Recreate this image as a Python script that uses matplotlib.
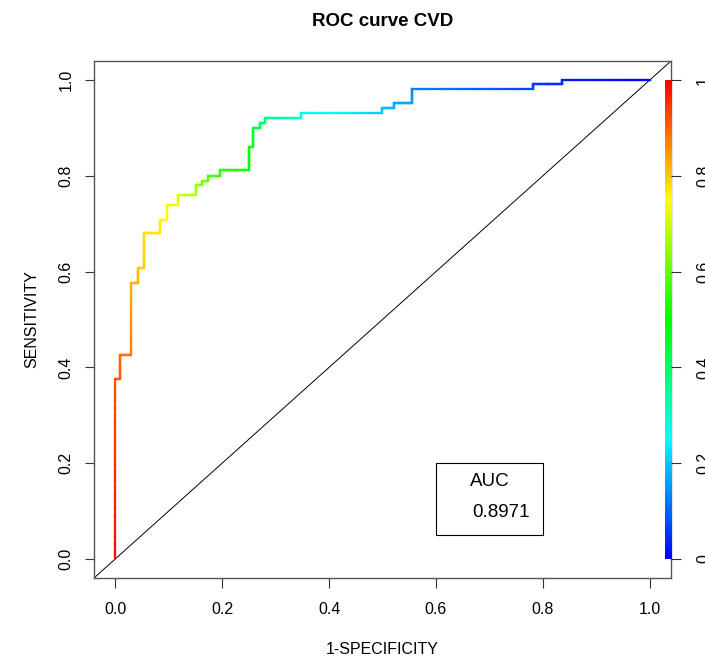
import numpy as np
import matplotlib
matplotlib.use("Agg")
import matplotlib.pyplot as plt
from matplotlib.collections import LineCollection
from matplotlib.colors import LinearSegmentedColormap
from matplotlib.patches import Rectangle

plt.rcParams['font.family'] = ['Liberation Sans', 'DejaVu Sans']

# ROC step vertices (1-specificity, sensitivity) and cutoff at each vertex
fpr = [0.0, 0.0, 0.0094, 0.0094, 0.029, 0.029, 0.042, 0.042, 0.053, 0.053,
       0.084, 0.084, 0.097, 0.097, 0.118, 0.118, 0.151, 0.151, 0.162, 0.162,
       0.173, 0.173, 0.195, 0.195, 0.250, 0.250, 0.258, 0.258, 0.271, 0.271,
       0.280, 0.280, 0.348, 0.348, 0.499, 0.499, 0.521, 0.521, 0.555, 0.555,
       0.782, 0.782, 0.836, 0.836, 1.0]
tpr = [0.0, 0.376, 0.376, 0.425, 0.425, 0.577, 0.577, 0.607, 0.607, 0.680,
       0.680, 0.708, 0.708, 0.739, 0.739, 0.760, 0.760, 0.780, 0.780, 0.789,
       0.789, 0.800, 0.800, 0.812, 0.812, 0.861, 0.861, 0.900, 0.900, 0.910,
       0.910, 0.921, 0.921, 0.931, 0.931, 0.941, 0.941, 0.952, 0.952, 0.981,
       0.981, 0.992, 0.992, 1.0, 1.0]
cutoff = [0.99, 0.92, 0.91, 0.89, 0.88, 0.83, 0.82, 0.81, 0.80, 0.78,
          0.77, 0.76, 0.755, 0.74, 0.73, 0.71, 0.68, 0.65, 0.64, 0.62,
          0.61, 0.58, 0.57, 0.55, 0.52, 0.49, 0.48, 0.44, 0.43, 0.41,
          0.40, 0.38, 0.30, 0.28, 0.20, 0.19, 0.18, 0.17, 0.16, 0.13,
          0.07, 0.06, 0.04, 0.03, 0.0]
auc_value = "0.8971"
ticks = [0.0, 0.2, 0.4, 0.6, 0.8, 1.0]
left_labels = ["0.0", "0.2", "0.4", "0.6", "0.8", "1.0"]
right_labels = ["0", "0.2", "0.4", "0.6", "0.8", "1"]

cmap = LinearSegmentedColormap.from_list(
    "rrainbow", ["#0000FF", "#00FFFF", "#00FF00", "#FFFF00", "#FF0000"])

fig = plt.figure(figsize=(7.05, 6.59), dpi=100)
ax = fig.add_axes([94/705, 81/659, (671-94)/705, (578-61)/659])
ax.set_xlim(-0.04, 1.04)
ax.set_ylim(-0.04, 1.04)

# diagonal
ax.plot([-0.04, 1.04], [-0.04, 1.04], color="black", lw=0.7, zorder=2)

# colorized ROC curve
segs, cols = [], []
for i in range(len(fpr) - 1):
    n = 25
    xs = np.linspace(fpr[i], fpr[i+1], n + 1)
    ys = np.linspace(tpr[i], tpr[i+1], n + 1)
    cs = np.linspace(cutoff[i], cutoff[i+1], n + 1)
    for k in range(n):
        segs.append([(xs[k], ys[k]), (xs[k+1], ys[k+1])])
        cols.append(cmap((cs[k] + cs[k+1]) / 2))
lc = LineCollection(segs, colors=cols, linewidths=1.6, capstyle="projecting", zorder=3)
ax.add_collection(lc)

# colour bar inside plot region
grad = np.linspace(0, 1, 256).reshape(-1, 1)
ax.imshow(grad, cmap=cmap, origin="lower", aspect="auto",
          extent=[1.0285, 1.04, 0.0, 1.0], zorder=4)

# AUC box
ax.add_patch(Rectangle((0.6, 0.05), 0.2, 0.15, fill=False, edgecolor="black", lw=0.8, zorder=5))
ax.text(0.663, 0.161, "AUC", fontsize=13.5, ha="left", va="center", zorder=6)
ax.text(0.668, 0.096, auc_value, fontsize=13.5, ha="left", va="center", zorder=6)

ax.set_xlim(-0.04, 1.04)
ax.set_ylim(-0.04, 1.04)

for s in ax.spines.values():
    s.set_color("#555555")
    s.set_linewidth(1.0)

ax.set_xticks(ticks)
ax.set_xticklabels(left_labels)
ax.set_yticks(ticks)
ax.set_yticklabels(left_labels, rotation=90, va="center")
ax.tick_params(axis="x", length=7, width=0.8, pad=10, labelsize=11.5, color="#333333")
ax.tick_params(axis="y", length=6.5, width=0.8, pad=8, labelsize=11.5, color="#333333")

ax2 = ax.twinx()
ax2.set_ylim(-0.04, 1.04)
ax2.set_yticks(ticks)
ax2.set_yticklabels(right_labels, rotation=90, va="center")
ax2.tick_params(axis="y", length=7, width=0.8, pad=11, labelsize=11.5, color="#333333")
for s in ax2.spines.values():
    s.set_visible(False)

ax.set_xlabel("1-SPECIFICITY", fontsize=11.5, labelpad=18)
ax.set_ylabel("SENSITIVITY", fontsize=11.5, labelpad=14)
ax.set_title("ROC curve CVD", fontsize=13.5, fontweight="bold", pad=25)

fig.savefig("out.png", dpi=100)
